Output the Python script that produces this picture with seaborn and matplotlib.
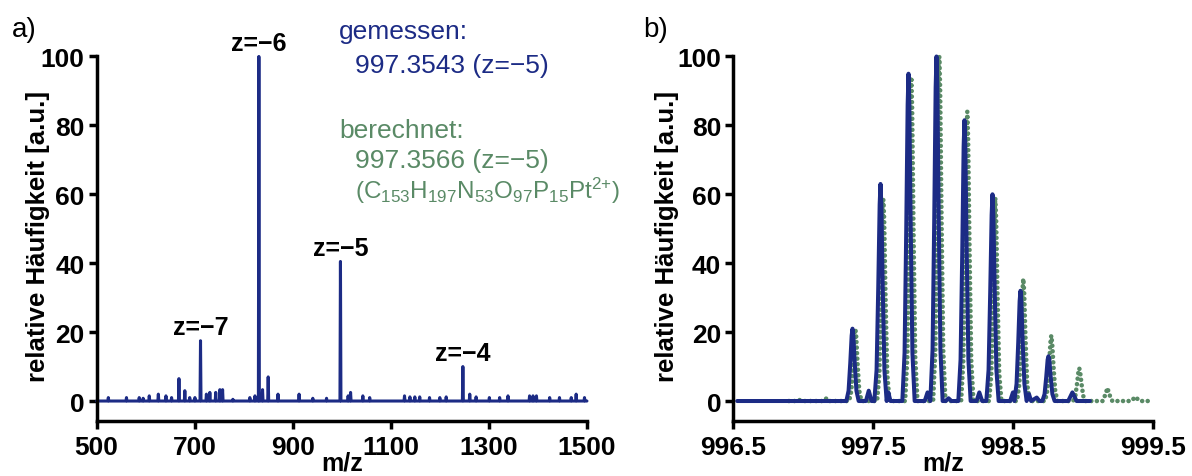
import matplotlib
matplotlib.use("Agg")
import matplotlib.pyplot as plt
import pandas as pd
import seaborn as sns

# ---------------------------------------------------------------------------
# Data
# ---------------------------------------------------------------------------
# a) overview spectrum: peak centroids (m/z) and relative intensities
overview_mz = [
    524, 561, 587, 595, 607.5, 626, 641.5, 653, 668, 680, 690, 700.6, 712,
    724, 731, 743, 751.5, 757, 778, 812.6, 823, 831, 838.5, 850, 870, 913,
    941, 969, 997.35, 1013, 1018, 1043, 1057, 1128, 1139, 1149, 1159, 1179,
    1200, 1213, 1247, 1261, 1274, 1301, 1322, 1339, 1383, 1390, 1397, 1424,
    1444, 1468, 1478, 1495,
]
overview_int = [
    1.0, 1.0, 1.0, 0.8, 1.5, 2.0, 1.5, 1.0, 6.5, 3.0, 1.0, 1.0, 17.5,
    2.0, 2.5, 2.5, 3.3, 3.3, 0.5, 1.0, 1.5, 100.0, 3.3, 7.0, 2.0, 2.0,
    0.8, 0.8, 40.5, 1.5, 2.5, 1.5, 1.0, 1.5, 1.2, 1.2, 1.2, 1.0,
    1.0, 1.2, 10.0, 2.0, 1.2, 1.0, 1.0, 1.5, 1.5, 1.5, 1.5, 1.0,
    1.0, 1.0, 2.0, 1.0,
]
overview_range = [500, 1500]

# charge-state annotations
charge_mz = [712, 831, 997.35, 1247]
charge_int = [17.5, 100.0, 40.5, 10.0]
charge_text = ["z=\u22127", "z=\u22126", "z=\u22125", "z=\u22124"]

# b) isotope pattern of the z=-5 ion, measured profile
measured_mz = [
    996.530,
    997.310, 997.326, 997.338, 997.348, 997.354, 997.360, 997.370, 997.382, 997.398,
    997.450, 997.470, 997.490,
    997.510, 997.526, 997.538, 997.548, 997.554, 997.560, 997.570, 997.582, 997.598,
    997.610, 997.625,
    997.710, 997.726, 997.738, 997.748, 997.754, 997.760, 997.770, 997.782, 997.798,
    997.870, 997.890,
    997.910, 997.926, 997.938, 997.948, 997.954, 997.960, 997.970, 997.982, 997.998,
    998.020, 998.040, 998.060,
    998.110, 998.126, 998.138, 998.148, 998.154, 998.160, 998.170, 998.182, 998.198,
    998.240, 998.260, 998.280,
    998.310, 998.326, 998.338, 998.348, 998.354, 998.360, 998.370, 998.382, 998.398,
    998.480, 998.500,
    998.510, 998.526, 998.538, 998.548, 998.554, 998.560, 998.570, 998.582, 998.598,
    998.615, 998.630, 998.670, 998.690,
    998.710, 998.726, 998.738, 998.748, 998.754, 998.760, 998.770, 998.782, 998.798,
    998.895, 998.925, 998.955,
    999.050,
]
measured_int = [
    0.0,
    0.0, 3.0, 11.0, 19.0, 21.0, 19.0, 11.0, 3.0, 0.0,
    0.0, 3.0, 0.0,
    0.0, 9.0, 33.0, 57.0, 63.0, 57.0, 33.0, 9.0, 0.0,
    2.5, 0.0,
    0.0, 14.0, 50.0, 86.0, 95.0, 86.0, 50.0, 14.0, 0.0,
    0.0, 2.5,
    0.0, 15.0, 53.0, 91.0, 100.0, 91.0, 53.0, 15.0, 0.0,
    0.0, 0.8, 0.0,
    0.0, 12.0, 43.0, 74.0, 81.5, 74.0, 43.0, 12.0, 0.0,
    0.0, 2.5, 0.0,
    0.0, 9.0, 32.0, 54.0, 60.0, 54.0, 32.0, 9.0, 0.0,
    0.0, 2.5,
    0.0, 5.0, 17.0, 29.0, 32.0, 29.0, 17.0, 5.0, 0.0,
    2.0, 0.0, 1.0, 0.0,
    0.0, 2.0, 7.0, 12.0, 13.0, 12.0, 7.0, 2.0, 0.0,
    0.0, 2.5, 0.0,
    0.0,
]

# b) calculated isotope pattern for C153H197N53O97P15Pt
calculated_mz = [
    996.900, 996.950, 996.970, 996.990, 997.150, 997.170, 997.190,
    997.330, 997.346, 997.358, 997.368, 997.374, 997.380, 997.390, 997.402, 997.418,
    997.530, 997.546, 997.558, 997.568, 997.574, 997.580, 997.590, 997.602, 997.618,
    997.730, 997.746, 997.758, 997.768, 997.774, 997.780, 997.790, 997.802, 997.818,
    997.930, 997.946, 997.958, 997.968, 997.974, 997.980, 997.990, 998.002, 998.018,
    998.130, 998.146, 998.158, 998.168, 998.174, 998.180, 998.190, 998.202, 998.218,
    998.330, 998.346, 998.358, 998.368, 998.374, 998.380, 998.390, 998.402, 998.418,
    998.530, 998.546, 998.558, 998.568, 998.574, 998.580, 998.590, 998.602, 998.618,
    998.730, 998.746, 998.758, 998.768, 998.774, 998.780, 998.790, 998.802, 998.818,
    998.930, 998.946, 998.958, 998.968, 998.974, 998.980, 998.990, 999.002, 999.018,
    999.140, 999.160, 999.175, 999.190, 999.210,
    999.340, 999.360, 999.375, 999.390, 999.410, 999.470,
]
calculated_int = [
    0.0, 0.0, 0.4, 0.0, 0.0, 0.9, 0.0,
    0.0, 3.0, 11.0, 19.0, 21.0, 19.0, 11.0, 3.0, 0.0,
    0.0, 8.0, 30.0, 53.0, 58.5, 53.0, 30.0, 8.0, 0.0,
    0.0, 13.0, 49.0, 85.0, 94.0, 85.0, 49.0, 13.0, 0.0,
    0.0, 15.0, 53.0, 91.0, 100.0, 91.0, 53.0, 15.0, 0.0,
    0.0, 12.0, 44.0, 76.0, 84.0, 76.0, 44.0, 12.0, 0.0,
    0.0, 8.0, 31.0, 53.0, 59.0, 53.0, 31.0, 8.0, 0.0,
    0.0, 5.0, 18.0, 32.0, 35.5, 32.0, 18.0, 5.0, 0.0,
    0.0, 3.0, 10.0, 17.0, 19.0, 17.0, 10.0, 3.0, 0.0,
    0.0, 1.5, 5.0, 8.5, 9.5, 8.5, 5.0, 1.5, 0.0,
    0.0, 1.8, 3.8, 1.8, 0.0,
    0.0, 0.6, 1.2, 0.6, 0.0, 0.0,
]

overview_xticks = [500, 700, 900, 1100, 1300, 1500]
zoom_xticks = [996.5, 997.5, 998.5, 999.5]
yticks = [0, 20, 40, 60, 80, 100]

# ---------------------------------------------------------------------------
# Style
# ---------------------------------------------------------------------------
BLUE = "#1c2b85"
GREEN = "#5a8a66"
STICK_HALF_WIDTH = 1.0  # m/z half-width of each centroid stick

sns.set_style("ticks")
plt.rcParams["font.family"] = ["Liberation Sans", "DejaVu Sans"]
plt.rcParams["font.weight"] = "bold"
plt.rcParams["text.color"] = "black"
plt.rcParams["axes.labelcolor"] = "black"
plt.rcParams["xtick.color"] = "black"
plt.rcParams["ytick.color"] = "black"
plt.rcParams["mathtext.fontset"] = "custom"
plt.rcParams["mathtext.rm"] = "Liberation Sans"
plt.rcParams["mathtext.it"] = "Liberation Sans:italic"
plt.rcParams["mathtext.bf"] = "Liberation Sans:bold"

fig = plt.figure(figsize=(11.92, 4.77), dpi=100)
ax1 = fig.add_axes([0.0810, 0.1153, 0.4114, 0.7642])
ax2 = fig.add_axes([0.6149, 0.1153, 0.3523, 0.7642])

# centroid list -> stick trace
trace_x = [overview_range[0]]
trace_y = [0.0]
for m, h in zip(overview_mz, overview_int):
    trace_x += [m - STICK_HALF_WIDTH, m, m + STICK_HALF_WIDTH]
    trace_y += [0.0, h, 0.0]
trace_x.append(overview_range[1])
trace_y.append(0.0)
overview_df = pd.DataFrame({"mz": trace_x, "intensity": trace_y})

sns.lineplot(data=overview_df, x="mz", y="intensity", ax=ax1, estimator=None,
             sort=False, color=BLUE, lw=2.2, clip_on=False)

for m, h, t in zip(charge_mz, charge_int, charge_text):
    ax1.text(m, h + 2.0, t, ha="center", va="baseline", fontsize=18,
             fontweight="bold", color="black")

calc_df = pd.DataFrame({"mz": calculated_mz, "intensity": calculated_int})
meas_df = pd.DataFrame({"mz": measured_mz, "intensity": measured_int})
sns.lineplot(data=calc_df, x="mz", y="intensity", ax=ax2, estimator=None,
             sort=False, color=GREEN, lw=3.3, linestyle=(0, (0.01, 1.2)),
             dash_capstyle="round", clip_on=False)
sns.lineplot(data=meas_df, x="mz", y="intensity", ax=ax2, estimator=None,
             sort=False, color=BLUE, lw=2.9, clip_on=False,
             solid_joinstyle="round")

for ax, xticks, xlim, ylab_x in ((ax1, overview_xticks, (500, 1500), -0.095),
                                  (ax2, zoom_xticks, (996.5, 999.5), -0.128)):
    ax.set_xlim(*xlim)
    ax.set_ylim(-5.8, 100)
    ax.set_xticks(xticks)
    ax.set_xticklabels([f"{v:g}" for v in xticks])
    ax.set_yticks(yticks)
    ax.set_yticklabels([str(v) for v in yticks])
    sns.despine(ax=ax)
    for side in ("left", "bottom"):
        ax.spines[side].set_linewidth(2.5)
        ax.spines[side].set_color("black")
    ax.tick_params(axis="both", direction="out", length=5.5, width=2.5,
                   labelsize=19, colors="black")
    ax.tick_params(axis="y", pad=3)
    ax.tick_params(axis="x", pad=4.5)
    for lbl in ax.get_xticklabels() + ax.get_yticklabels():
        lbl.set_fontweight("bold")
    ax.set_ylabel("relative Häufigkeit [a.u.]", fontsize=18.5, fontweight="bold")
    ax.set_xlabel("m/z", fontsize=18, fontweight="bold")
    ax.yaxis.set_label_coords(ylab_x, 0.51)
    ax.xaxis.set_label_coords(0.5, -0.082)

# panel letters
fig.text(12 / 1192, 1 - 37 / 477, "a)", fontsize=20, fontweight="normal",
         va="baseline", ha="left")
fig.text(643 / 1192, 1 - 37 / 477, "b)", fontsize=20, fontweight="normal",
         va="baseline", ha="left")

# measured vs calculated values
info = [
    (339, 39, "gemessen:", BLUE, 19),
    (355, 73, "997.3543 (z=\u22125)", BLUE, 19),
    (339, 138, "berechnet:", GREEN, 19),
    (355, 168, "997.3566 (z=\u22125)", GREEN, 19),
    (355, 199, r"$\mathregular{(C_{153}H_{197}N_{53}O_{97}P_{15}Pt^{2{+}})}$", GREEN, 17.5),
]
for px, py, txt, col, fs in info:
    fig.text(px / 1192, 1 - py / 477, txt, fontsize=fs, fontweight="normal",
             color=col, va="baseline", ha="left")

fig.savefig("out.png", dpi=100)
